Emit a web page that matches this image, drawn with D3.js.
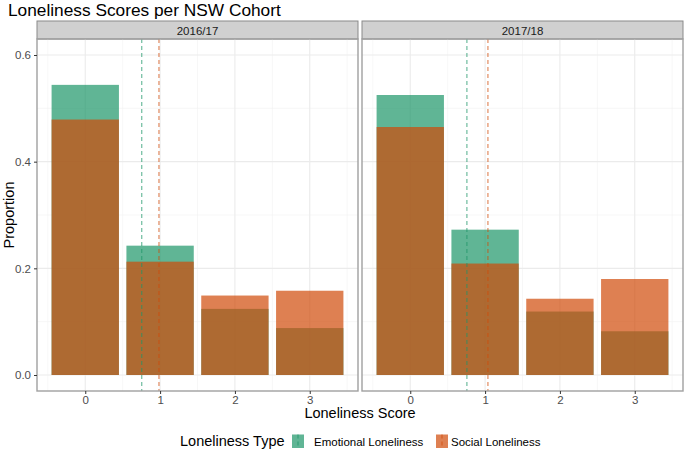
<!DOCTYPE html>
<html><head><meta charset="utf-8">
<script src="https://cdn.jsdelivr.net/npm/d3@7"></script>
<style>body{margin:0;background:#fff}svg{display:block;font-family:"Liberation Sans",Arial,sans-serif}</style>
</head><body><svg id="c" width="685" height="451"></svg>
<script>
const cohorts = ["2016/17", "2017/18"];
const scores = [0, 1, 2, 3];
const types = ["Emotional Loneliness", "Social Loneliness"];
const emotional = [[0.544, 0.2425, 0.124, 0.088], [0.525, 0.2725, 0.119, 0.082]];
const social = [[0.479, 0.2125, 0.149, 0.158], [0.465, 0.209, 0.143, 0.180]];
const emotionalMean = [0.755, 0.757];
const socialMean = [0.985, 1.038];
const yTicks = [0, 0.2, 0.4, 0.6];
const colors = ["#1C9668", "#D04A08"];

const svg = d3.select("#c");
const panelX = [37, 362], panelW = 321, pTop = 39, pBottom = 391;
const y = d3.scaleLinear().domain([-0.03, 0.63]).range([pBottom, pTop]);
const alpha = 0.7;

svg.append("text").attr("x", 8).attr("y", 16).attr("font-size", 17.3).attr("fill", "#000")
  .text("Loneliness Scores per NSW Cohort");

cohorts.forEach((c, pi) => {
  const x = d3.scaleLinear().domain([-0.645, 3.645]).range([panelX[pi], panelX[pi] + panelW]);
  const g = svg.append("g");
  g.append("rect").attr("x", panelX[pi]).attr("y", 21).attr("width", panelW).attr("height", 18)
    .attr("fill", "#D0D0D0").attr("stroke", "#8a8a8a").attr("stroke-width", 1);
  g.append("text").attr("x", panelX[pi] + panelW / 2).attr("y", 34.5).attr("text-anchor", "middle")
    .attr("font-size", 11.5).attr("fill", "#1a1a1a").text(c);
  const minorX = [-0.5, 0.5, 1.5, 2.5, 3.5], minorY = [0.1, 0.3, 0.5];
  g.selectAll(".mx").data(minorX).enter().append("line")
    .attr("x1", d => x(d)).attr("x2", d => x(d)).attr("y1", pTop).attr("y2", pBottom)
    .attr("stroke", "#F2F2F2").attr("stroke-width", 0.6);
  g.selectAll(".my").data(minorY).enter().append("line")
    .attr("y1", d => y(d)).attr("y2", d => y(d)).attr("x1", panelX[pi]).attr("x2", panelX[pi] + panelW)
    .attr("stroke", "#F2F2F2").attr("stroke-width", 0.6);
  g.selectAll(".Mx").data(scores).enter().append("line")
    .attr("x1", d => x(d)).attr("x2", d => x(d)).attr("y1", pTop).attr("y2", pBottom)
    .attr("stroke", "#EBEBEB").attr("stroke-width", 1.1);
  g.selectAll(".My").data(yTicks).enter().append("line")
    .attr("y1", d => y(d)).attr("y2", d => y(d)).attr("x1", panelX[pi]).attr("x2", panelX[pi] + panelW)
    .attr("stroke", "#EBEBEB").attr("stroke-width", 1.1);
  [emotional[pi], social[pi]].forEach((vals, ti) => {
    g.selectAll(".b" + ti).data(vals).enter().append("rect")
      .attr("x", (d, i) => x(scores[i] - 0.45)).attr("width", x(0.45) - x(-0.45))
      .attr("y", d => y(d)).attr("height", d => y(0) - y(d))
      .attr("fill", colors[ti]).attr("fill-opacity", alpha);
  });
  [emotionalMean[pi], socialMean[pi]].forEach((m, ti) => {
    g.append("line").attr("x1", x(m)).attr("x2", x(m)).attr("y1", pTop).attr("y2", pBottom)
      .attr("stroke", colors[ti]).attr("stroke-opacity", 0.7).attr("stroke-width", 1.1)
      .attr("stroke-dasharray", "4,3");
  });
  g.append("rect").attr("x", panelX[pi]).attr("y", pTop).attr("width", panelW).attr("height", pBottom - pTop)
    .attr("fill", "none").attr("stroke", "#A0A0A0").attr("stroke-width", 1.4);
  const xa = g.append("g").attr("transform", `translate(0,${pBottom})`)
    .call(d3.axisBottom(x).tickValues(scores).tickFormat(d3.format("d")).tickSize(3).tickPadding(2));
  xa.select(".domain").remove();
  xa.selectAll("line").attr("stroke", "#333");
  xa.selectAll("text").attr("font-size", 11.5).attr("fill", "#4D4D4D").attr("font-family", "Liberation Sans, Arial, sans-serif");
  if (pi === 0) {
    const ya = g.append("g").attr("transform", `translate(${panelX[0]},0)`)
      .call(d3.axisLeft(y).tickValues(yTicks).tickFormat(d3.format(".1f")).tickSize(3).tickPadding(3));
    ya.select(".domain").remove();
    ya.selectAll("line").attr("stroke", "#333");
    ya.selectAll("text").attr("font-size", 11.5).attr("fill", "#4D4D4D").attr("font-family", "Liberation Sans, Arial, sans-serif");
  }
});

svg.append("text").attr("x", (panelX[0] + panelX[1] + panelW) / 2).attr("y", 418).attr("text-anchor", "middle")
  .attr("font-size", 14.5).attr("fill", "#000").text("Loneliness Score");
svg.append("text").attr("transform", `translate(14,${(pTop + pBottom) / 2}) rotate(-90)`).attr("text-anchor", "middle")
  .attr("font-size", 14.5).attr("fill", "#000").text("Proportion");

const lg = svg.append("g");
lg.append("text").attr("x", 180).attr("y", 446).attr("font-size", 14.5).attr("fill", "#000").text("Loneliness Type");
const keyX = [292, 436], labX = [314, 451];
types.forEach((t, i) => {
  lg.append("rect").attr("x", keyX[i]).attr("y", 434.5).attr("width", 12).attr("height", 13.5)
    .attr("fill", colors[i]).attr("fill-opacity", alpha);
  lg.append("line").attr("x1", keyX[i] + 6).attr("x2", keyX[i] + 6).attr("y1", 434.5).attr("y2", 448)
    .attr("stroke", colors[i]).attr("stroke-opacity", 0.7).attr("stroke-width", 1.1).attr("stroke-dasharray", "4,3");
  lg.append("text").attr("x", labX[i]).attr("y", 445.5).attr("font-size", 11.5).attr("fill", "#000").text(t);
});
</script></body></html>
